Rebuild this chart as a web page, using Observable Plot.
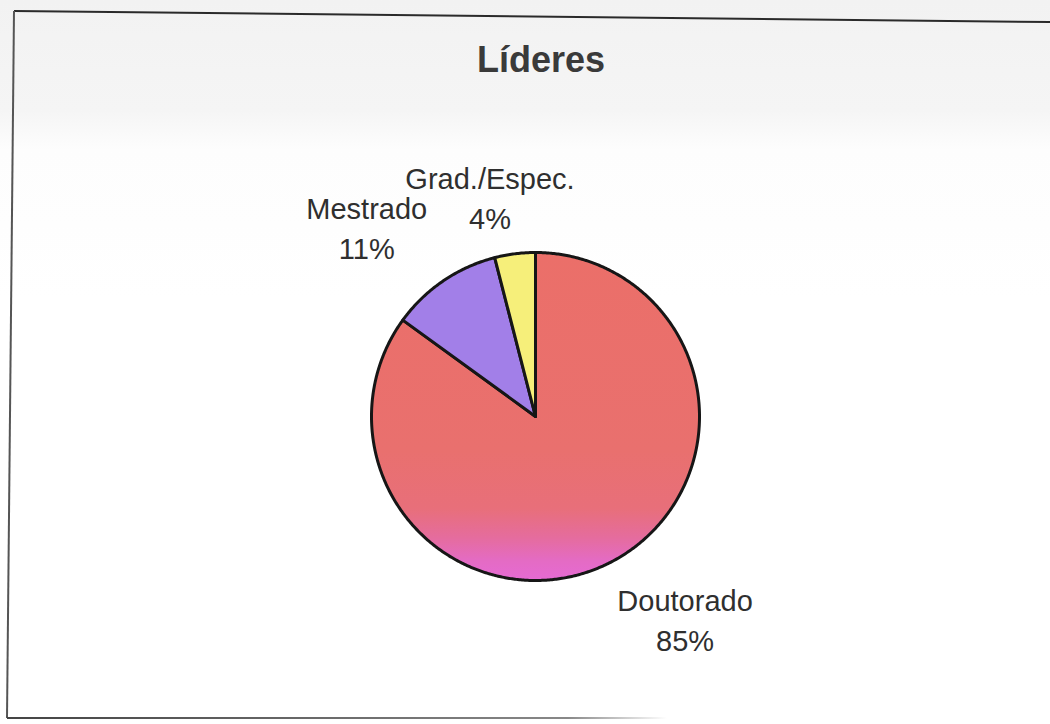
<!DOCTYPE html>
<html>
<head>
<meta charset="utf-8">
<script src="https://cdn.jsdelivr.net/npm/d3@7"></script>
<script src="https://cdn.jsdelivr.net/npm/@observablehq/plot@0.6"></script>
<style>
  body { margin: 0; background: #fff; }
  #wrap { position: relative; width: 1050px; height: 724px; overflow: hidden;
          background: linear-gradient(#f2f2f2 0px, #f5f5f5 110px, #fdfdfd 150px, #fff 300px);
          font-family: "Liberation Sans", Arial, sans-serif; }
  #title { position: absolute; left: 0; top: 42px; width: 1082px; text-align: center;
           font-weight: bold; font-size: 36px; line-height: 36px; color: #3a3a3a; }
  #chart { position: absolute; left: 0; top: 0; }
  #frame { position: absolute; left: 0; top: 0; }
</style>
</head>
<body>
<div id="wrap">
  <svg id="frame" width="1050" height="724"></svg>
  <div id="chart"></div>
  <div id="title">Líderes</div>
</div>
<script>
// ---- data ----
const categories = ["Doutorado", "Mestrado", "Grad./Espec."];
const values = [85, 11, 4];
const percentLabels = ["85%", "11%", "4%"];

// ---- styles ----
const sliceColors = ["url(#doutGrad)", "#a27fe8", "#f6ef7a"];

// ---- layout ----
const W = 1050, H = 724;
const cx = 535, cy = 416, R = 164;     // pie centre and radius in pixels
const fontSize = 29, lineGap = 40, labelGap = 18, boxPad = 6;

const rows = categories.map((name, i) => ({name, value: values[i], pct: percentLabels[i]}));

// pie arcs: 12 o'clock start, clockwise
const arcs = d3.pie().sort(null).value(d => d.value).startAngle(0).endAngle(2 * Math.PI)(rows);

// slice outlines in radius units (centre = 0,0, y up)
const slicePts = [];
for (const a of arcs) {
  const name = a.data.name;
  slicePts.push({name, x: 0, y: 0});
  const n = Math.max(4, Math.ceil((a.endAngle - a.startAngle) / (Math.PI / 360)));
  for (let i = 0; i <= n; i++) {
    const t = a.startAngle + (a.endAngle - a.startAngle) * i / n;
    slicePts.push({name, x: Math.sin(t), y: Math.cos(t)});
  }
  slicePts.push({name, x: 0, y: 0});
}

// label placement (Excel-like: outside the arc at mid-angle, box pushed outward)
const ctx = document.createElement("canvas").getContext("2d");
ctx.font = `${fontSize}px "Liberation Sans"`;
const clamp = v => Math.max(-1, Math.min(1, v));
const labels = arcs.map(a => {
  const m = (a.startAngle + a.endAngle) / 2;
  const ux = Math.sin(m), uy = Math.cos(m);
  const w = (Math.max(ctx.measureText(a.data.name).width, ctx.measureText(a.data.pct).width) + 2 * boxPad) / R;
  const h = (lineGap + 40) / R;
  const r = 1 + labelGap / R;
  return {
    name: a.data.name, pct: a.data.pct,
    x: r * ux + (w / 2) * clamp(2 * ux),
    y: r * uy + (h / 2) * clamp(2 * uy)
  };
});

const svg = Plot.plot({
  width: W, height: H,
  margin: 0,
  style: {background: "transparent", overflow: "visible"},
  x: {domain: [-cx / R, (W - cx) / R], range: [0, W], axis: null},
  y: {domain: [-(H - cy) / R, cy / R], range: [H, 0], axis: null},
  color: {type: "ordinal", domain: categories, range: sliceColors},
  marks: [
    Plot.line(slicePts, {
      x: "x", y: "y", z: "name", fill: "name",
      stroke: "#161616", strokeWidth: 3, strokeLinejoin: "round", curve: "linear"
    }),
    Plot.text(labels, {
      x: "x", y: "y",
      text: d => `${d.name}\n${d.pct}`,
      lineHeight: lineGap / fontSize,
      fontSize, fill: "#2f2f2f",
      fontFamily: '"Liberation Sans", Arial, sans-serif'
    })
  ]
});

// gradient for the large slice (scan shows pinkish lower band)
const defs = d3.select(svg).insert("defs", ":first-child");
const grad = defs.append("linearGradient").attr("id", "doutGrad")
  .attr("x1", 0).attr("y1", 0).attr("x2", 0).attr("y2", 1);
[[0, "#eb6f69"], [0.6, "#e9706e"], [0.78, "#e86f7a"], [0.87, "#e56c9e"], [0.94, "#e46bc4"], [1, "#e66ad4"]]
  .forEach(([o, c]) => grad.append("stop").attr("offset", o).attr("stop-color", c));

document.getElementById("chart").appendChild(svg);

// frame lines of the scanned box
const frame = d3.select("#frame");
const fd = frame.append("defs");
const fg = fd.append("linearGradient").attr("id", "fadeB").attr("x1", 0).attr("x2", 1).attr("y1", 0).attr("y2", 0);
fg.append("stop").attr("offset", 0).attr("stop-color", "#444");
fg.append("stop").attr("offset", 0.85).attr("stop-color", "#888");
fg.append("stop").attr("offset", 1).attr("stop-color", "#fff");
frame.append("line").attr("x1", 14).attr("y1", 11).attr("x2", 1050).attr("y2", 22)
  .attr("stroke", "#2a2a2a").attr("stroke-width", 2);
frame.append("line").attr("x1", 14).attr("y1", 11).attr("x2", 7).attr("y2", 718)
  .attr("stroke", "#555").attr("stroke-width", 2);
frame.append("rect").attr("x", 7).attr("y", 717).attr("width", 660).attr("height", 2)
  .attr("fill", "url(#fadeB)");
</script>
</body>
</html>
